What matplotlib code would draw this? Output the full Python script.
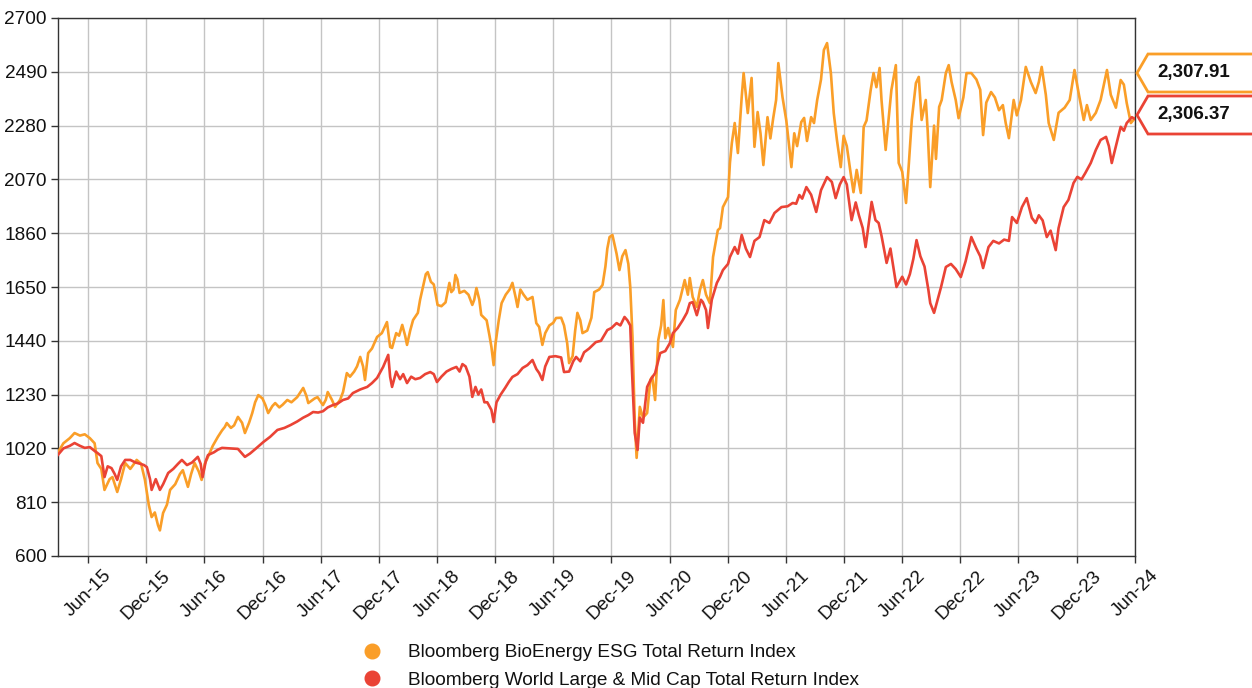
import matplotlib
matplotlib.use("Agg")
import matplotlib.pyplot as plt
from matplotlib.lines import Line2D
from matplotlib.patches import Polygon
import pandas as pd

plt.rcParams['font.family'] = ['Liberation Sans', 'DejaVu Sans']

series_names = ["Bloomberg BioEnergy ESG Total Return Index",
                "Bloomberg World Large & Mid Cap Total Return Index"]
series_colors = ["#FA9E28", "#EA4335"]

orange_dates = [
"2015-02-27","2015-03-16","2015-04-05","2015-04-20","2015-05-07","2015-05-22","2015-06-07","2015-06-22",
"2015-07-01","2015-07-13","2015-07-23","2015-08-08","2015-08-17","2015-09-01","2015-09-13","2015-09-26",
"2015-10-12","2015-10-21","2015-11-01","2015-11-15","2015-11-27","2015-12-09","2015-12-18","2015-12-28",
"2016-01-07","2016-01-13","2016-01-23","2016-02-04","2016-02-14","2016-03-01","2016-03-16","2016-03-25",
"2016-04-10","2016-04-20","2016-05-01","2016-05-14","2016-05-23","2016-06-02","2016-06-12","2016-06-27",
"2016-07-13","2016-07-26","2016-08-04","2016-08-10","2016-08-23","2016-09-02","2016-09-14","2016-09-27",
"2016-10-06","2016-10-19","2016-10-29","2016-11-07","2016-11-17","2016-11-30","2016-12-09","2016-12-18",
"2016-12-31","2017-01-09","2017-01-22","2017-02-01","2017-02-16","2017-03-01","2017-03-19","2017-04-07",
"2017-04-17","2017-04-23","2017-05-13","2017-05-22","2017-06-08","2017-06-17","2017-06-23","2017-07-06",
"2017-07-16","2017-08-01","2017-08-10","2017-08-22","2017-09-01","2017-09-14","2017-09-23","2017-10-03",
"2017-10-12","2017-10-18","2017-10-28","2017-11-09","2017-11-25","2017-12-10","2017-12-26","2018-01-05",
"2018-01-11","2018-01-24","2018-02-02","2018-02-12","2018-02-21","2018-02-27","2018-03-09","2018-03-18",
"2018-04-02","2018-04-09","2018-04-18","2018-04-27","2018-05-03","2018-05-13","2018-05-22","2018-06-03",
"2018-06-15","2018-06-28","2018-07-10","2018-07-16","2018-07-23","2018-07-29","2018-08-04","2018-08-11",
"2018-08-26","2018-09-08","2018-09-20","2018-09-26","2018-10-03","2018-10-12","2018-10-18","2018-11-04",
"2018-11-13","2018-11-19","2018-11-26","2018-12-02","2018-12-12","2018-12-21","2019-01-03","2019-01-15",
"2019-01-24","2019-02-03","2019-02-09","2019-02-18","2019-02-28","2019-03-12","2019-03-28","2019-04-09",
"2019-04-18","2019-04-28","2019-05-07","2019-05-20","2019-06-01","2019-06-10","2019-06-26","2019-07-05",
"2019-07-15","2019-07-21","2019-08-01","2019-08-09","2019-08-16","2019-08-25","2019-09-01","2019-09-16",
"2019-09-29","2019-10-08","2019-10-23","2019-11-03","2019-11-12","2019-11-18","2019-11-25","2019-12-04",
"2019-12-17","2019-12-26","2020-01-04","2020-01-14","2020-01-23","2020-01-29","2020-02-05","2020-02-12",
"2020-02-18","2020-02-28","2020-03-09","2020-03-22","2020-04-01","2020-04-07","2020-04-16","2020-04-26",
"2020-05-05","2020-05-12","2020-05-18","2020-05-27","2020-06-01","2020-06-11","2020-06-20","2020-07-03",
"2020-07-18","2020-07-28","2020-08-03","2020-08-12","2020-08-25","2020-09-04","2020-09-13","2020-09-23",
"2020-10-05","2020-10-15","2020-10-30","2020-11-06","2020-11-15","2020-12-01","2020-12-07","2020-12-13",
"2020-12-22","2021-01-01","2021-01-13","2021-01-19","2021-01-26","2021-02-01","2021-02-13","2021-02-22",
"2021-03-04","2021-03-13","2021-03-22","2021-04-04","2021-04-13","2021-04-22","2021-05-01","2021-05-08",
"2021-05-21","2021-06-02","2021-06-11","2021-06-18","2021-06-27","2021-07-06","2021-07-19","2021-07-28",
"2021-08-06","2021-08-19","2021-08-28","2021-09-07","2021-09-19","2021-09-28","2021-10-08","2021-10-20",
"2021-10-29","2021-11-08","2021-11-20","2021-11-29","2021-12-09","2021-12-21","2021-12-30","2022-01-09",
"2022-01-22","2022-01-31","2022-02-09","2022-02-22","2022-03-03","2022-03-12","2022-03-22","2022-03-28",
"2022-04-10","2022-04-19","2022-04-28","2022-05-12","2022-05-21","2022-06-01","2022-06-13","2022-06-22",
"2022-07-01","2022-07-14","2022-07-23","2022-08-01","2022-08-14","2022-08-20","2022-08-28","2022-09-09",
"2022-09-15","2022-09-25","2022-10-03","2022-10-16","2022-10-25","2022-11-03","2022-11-16","2022-11-25",
"2022-12-10","2022-12-20","2023-01-04","2023-01-20","2023-02-01","2023-02-10","2023-02-20","2023-03-07",
"2023-03-19","2023-04-01","2023-04-13","2023-04-22","2023-05-02","2023-05-17","2023-05-27","2023-06-09",
"2023-06-24","2023-07-10","2023-07-25","2023-08-04","2023-08-13","2023-08-26","2023-09-04","2023-09-20",
"2023-10-05","2023-10-24","2023-11-09","2023-11-24","2023-12-08","2023-12-23","2024-01-02","2024-01-14",
"2024-01-30","2024-02-14","2024-03-05","2024-03-17","2024-04-02","2024-04-17","2024-04-27","2024-05-06",
"2024-05-19","2024-05-31"]
orange_values = [
1005,1040,1060,1080,1070,1075,1060,1040,
963,940,858,900,908,850,900,963,
940,955,975,960,897,800,752,770,
720,700,768,800,858,880,920,935,
870,920,963,930,897,960,987,1030,
1065,1090,1104,1119,1100,1110,1143,1120,
1080,1120,1158,1200,1228,1215,1190,1158,
1185,1197,1180,1190,1209,1200,1220,1256,
1225,1197,1215,1220,1189,1210,1240,1210,
1182,1210,1240,1314,1300,1320,1340,1377,
1340,1287,1392,1410,1455,1470,1513,1416,
1412,1470,1460,1502,1460,1424,1480,1521,
1549,1600,1650,1700,1708,1670,1660,1580,
1575,1590,1666,1630,1640,1697,1680,1627,
1635,1620,1580,1600,1646,1600,1541,1520,
1460,1416,1345,1430,1520,1587,1620,1640,
1666,1610,1572,1640,1620,1600,1611,1509,
1494,1424,1470,1500,1510,1529,1530,1500,
1430,1353,1380,1480,1549,1520,1470,1480,
1530,1630,1640,1658,1730,1800,1845,1853,
1780,1716,1770,1794,1740,1650,1455,1131,
983,1182,1140,1158,1287,1300,1209,1443,
1500,1599,1450,1490,1460,1416,1560,1600,
1677,1620,1685,1611,1572,1640,1677,1620,
1587,1767,1872,1880,1962,2001,2134,2212,
2290,2173,2392,2485,2400,2329,2466,2197,
2333,2250,2126,2313,2230,2310,2380,2524,
2392,2300,2200,2118,2250,2200,2294,2310,
2220,2313,2290,2380,2460,2575,2602,2485,
2329,2224,2118,2240,2200,2095,2020,2107,
2017,2275,2300,2419,2485,2430,2505,2380,
2185,2300,2419,2516,2134,2100,1978,2134,
2302,2446,2470,2302,2380,2260,2040,2280,
2150,2353,2380,2485,2516,2450,2380,2309,
2390,2485,2485,2460,2420,2243,2370,2411,
2390,2340,2360,2290,2231,2380,2320,2380,
2509,2450,2407,2450,2509,2400,2290,2224,
2330,2350,2380,2497,2400,2302,2360,2302,
2330,2380,2497,2400,2350,2458,2440,2368,
2290,2307.91]

red_dates = [
"2015-02-27","2015-03-16","2015-04-05","2015-04-20","2015-05-07","2015-05-22","2015-06-07","2015-06-22",
"2015-07-01","2015-07-13","2015-07-23","2015-08-02","2015-08-14","2015-08-24","2015-09-01","2015-09-13",
"2015-09-26","2015-10-12","2015-10-28","2015-11-12","2015-11-24","2015-12-03","2015-12-13","2015-12-18",
"2015-12-31","2016-01-13","2016-01-23","2016-02-08","2016-02-24","2016-03-10","2016-03-22","2016-04-07",
"2016-04-23","2016-05-11","2016-05-20","2016-05-26","2016-06-05","2016-06-12","2016-07-01","2016-07-13",
"2016-07-26","2016-08-20","2016-09-14","2016-10-06","2016-10-22","2016-11-10","2016-12-03","2016-12-24",
"2017-01-16","2017-02-07","2017-02-26","2017-03-19","2017-04-07","2017-04-23","2017-05-08","2017-05-24",
"2017-06-08","2017-06-23","2017-07-09","2017-07-24","2017-08-10","2017-08-26","2017-09-10","2017-10-03",
"2017-10-25","2017-11-09","2017-11-25","2017-12-14","2017-12-30","2018-01-05","2018-01-11","2018-01-24",
"2018-02-05","2018-02-15","2018-02-27","2018-03-12","2018-03-25","2018-04-09","2018-04-25","2018-05-11",
"2018-05-22","2018-06-01","2018-06-15","2018-07-01","2018-07-16","2018-08-01","2018-08-11","2018-08-20",
"2018-08-30","2018-09-11","2018-09-20","2018-09-30","2018-10-09","2018-10-18","2018-10-28","2018-11-06",
"2018-11-19","2018-11-26","2018-12-05","2018-12-18","2019-01-01","2019-01-13","2019-01-24","2019-02-09",
"2019-02-25","2019-03-12","2019-03-28","2019-04-09","2019-04-18","2019-04-28","2019-05-07","2019-05-20",
"2019-06-08","2019-06-26","2019-07-05","2019-07-21","2019-08-03","2019-08-12","2019-08-25","2019-09-06",
"2019-09-22","2019-10-13","2019-10-29","2019-11-18","2019-12-01","2019-12-17","2019-12-29","2020-01-11",
"2020-01-20","2020-01-29","2020-02-02","2020-02-12","2020-02-21","2020-02-28","2020-03-09","2020-03-22",
"2020-04-03","2020-04-16","2020-05-02","2020-05-18","2020-06-01","2020-06-11","2020-06-26","2020-07-12",
"2020-07-25","2020-08-03","2020-08-12","2020-08-25","2020-09-07","2020-09-13","2020-09-23","2020-09-29",
"2020-10-11","2020-10-27","2020-11-06","2020-11-15","2020-12-01","2020-12-07","2020-12-22","2021-01-01",
"2021-01-13","2021-01-26","2021-02-08","2021-02-22","2021-03-10","2021-03-25","2021-04-10","2021-04-26",
"2021-05-18","2021-06-06","2021-06-22","2021-07-03","2021-07-13","2021-07-22","2021-08-04","2021-08-19",
"2021-09-04","2021-09-19","2021-10-08","2021-10-23","2021-11-04","2021-11-17","2021-11-29","2021-12-09",
"2021-12-24","2022-01-06","2022-01-16","2022-01-28","2022-02-06","2022-02-16","2022-02-25","2022-03-09",
"2022-03-19","2022-03-28","2022-04-13","2022-04-25","2022-05-05","2022-05-14","2022-06-01","2022-06-13",
"2022-06-25","2022-07-06","2022-07-16","2022-07-28","2022-08-10","2022-08-22","2022-08-28","2022-09-09",
"2022-09-18","2022-10-01","2022-10-16","2022-11-01","2022-11-16","2022-12-02","2022-12-17","2023-01-04",
"2023-01-20","2023-02-01","2023-02-10","2023-02-27","2023-03-14","2023-04-01","2023-04-17","2023-05-02",
"2023-05-12","2023-05-27","2023-06-12","2023-06-27","2023-07-13","2023-07-25","2023-08-04","2023-08-16",
"2023-08-29","2023-09-10","2023-09-26","2023-10-05","2023-10-21","2023-11-05","2023-11-21","2023-12-03",
"2023-12-16","2023-12-28","2024-01-14","2024-01-30","2024-02-14","2024-03-02","2024-03-11","2024-03-20",
"2024-04-02","2024-04-17","2024-04-27","2024-05-06","2024-05-22","2024-05-31"]
red_values = [
995,1020,1030,1041,1030,1022,1025,1010,
1002,990,908,950,943,920,897,950,
975,975,965,960,955,947,900,858,
900,858,880,924,940,960,975,955,
965,987,960,908,970,994,1005,1015,
1022,1020,1018,987,1000,1020,1045,1065,
1092,1100,1111,1125,1140,1150,1162,1160,
1165,1180,1189,1195,1209,1215,1236,1250,
1260,1275,1295,1338,1385,1299,1260,1320,
1290,1310,1275,1300,1290,1295,1310,1318,
1310,1279,1300,1320,1330,1338,1320,1349,
1340,1300,1221,1260,1230,1250,1200,1200,
1170,1123,1200,1230,1256,1280,1299,1310,
1334,1345,1365,1330,1314,1287,1340,1377,
1380,1375,1318,1320,1360,1377,1360,1395,
1410,1435,1440,1482,1490,1509,1500,1533,
1520,1500,1365,1080,1014,1140,1120,1260,
1290,1314,1392,1400,1430,1470,1490,1521,
1550,1587,1591,1540,1600,1591,1560,1490,
1600,1666,1690,1716,1740,1767,1806,1780,
1853,1800,1767,1830,1845,1911,1900,1939,
1962,1965,1978,1975,2009,1995,2040,2010,
1943,2028,2079,2060,1997,2050,2079,2050,
1911,1980,1930,1880,1806,1900,1982,1911,
1900,1850,1744,1800,1720,1650,1690,1660,
1700,1760,1833,1770,1730,1640,1587,1549,
1590,1650,1728,1740,1720,1689,1750,1845,
1800,1770,1724,1806,1830,1820,1835,1830,
1923,1900,1962,1997,1920,1900,1930,1910,
1845,1870,1794,1880,1962,1990,2056,2080,
2070,2095,2134,2185,2224,2236,2200,2134,
2200,2275,2260,2290,2313,2306.37]

y_ticks = [600, 810, 1020, 1230, 1440, 1650, 1860, 2070, 2280, 2490, 2700]
x_tick_dates = ["2015-06-01","2015-12-01","2016-06-01","2016-12-01","2017-06-01","2017-12-01",
                "2018-06-01","2018-12-01","2019-06-01","2019-12-01","2020-06-01","2020-12-01",
                "2021-06-01","2021-12-01","2022-06-01","2022-12-01","2023-06-01","2023-12-01",
                "2024-06-01"]
x_start, x_end = "2015-02-27", "2024-06-01"

W, H = 1252, 688
FS = 13.7
fig = plt.figure(figsize=(W / 100, H / 100), dpi=100)
ax = fig.add_axes([58 / W, 1 - 556 / H, (1135 - 58) / W, (556 - 18) / H])

o_d = pd.to_datetime(orange_dates)
r_d = pd.to_datetime(red_dates)
ax.plot(o_d, orange_values, color=series_colors[0], lw=1.9, solid_joinstyle='round', zorder=3)
ax.plot(r_d, red_values, color=series_colors[1], lw=1.9, solid_joinstyle='round', zorder=4)

ax.set_xlim(pd.Timestamp(x_start), pd.Timestamp(x_end))
ax.set_ylim(y_ticks[0], y_ticks[-1])
ax.set_yticks(y_ticks)
ax.set_yticklabels([str(v) for v in y_ticks])
xt = pd.to_datetime(x_tick_dates)
ax.set_xticks(xt)
ax.set_xticklabels([d.strftime("%b-%y") for d in xt], rotation=45, ha='center', va='top')
ax.grid(True, color='#c4c4c4', lw=1.0)
ax.set_axisbelow(True)
for s in ax.spines.values():
    s.set_color('#333333')
    s.set_linewidth(1.0)
ax.tick_params(axis='both', direction='out', length=5, width=1, color='#333333',
               labelsize=FS, labelcolor='#111111', pad=3)

# value callouts on the right
def callout(y_center, color, text):
    half = 19
    tip_x, body_x, right_x = 1137, 1148, 1262
    pts = [(tip_x, y_center), (body_x, y_center - half), (right_x, y_center - half),
           (right_x, y_center + half), (body_x, y_center + half)]
    pts = [(px / W, 1 - py / H) for px, py in pts]
    fig.patches.append(Polygon(pts, closed=True, transform=fig.transFigure, facecolor='white',
                               edgecolor=color, lw=2.0, clip_on=False, zorder=5))
    fig.text(1157 / W, 1 - y_center / H, text, transform=fig.transFigure, ha='left', va='center',
             fontsize=13.5, fontweight='bold', color='#111111', zorder=6)

callout(73, series_colors[0], f"{orange_values[-1]:,.2f}")
callout(115, series_colors[1], f"{red_values[-1]:,.2f}")

handles = [Line2D([], [], marker='o', linestyle='none', markersize=10.5,
                  markerfacecolor=c, markeredgecolor=c) for c in series_colors]
fig.legend(handles, series_names, loc='upper left', bbox_to_anchor=(361 / W, 1 - 644 / H),
           frameon=False, fontsize=FS, handlelength=1.2, handletextpad=1.25, labelspacing=0.52,
           borderpad=0, borderaxespad=0, labelcolor='#111111')

fig.savefig("out.png", dpi=100)
